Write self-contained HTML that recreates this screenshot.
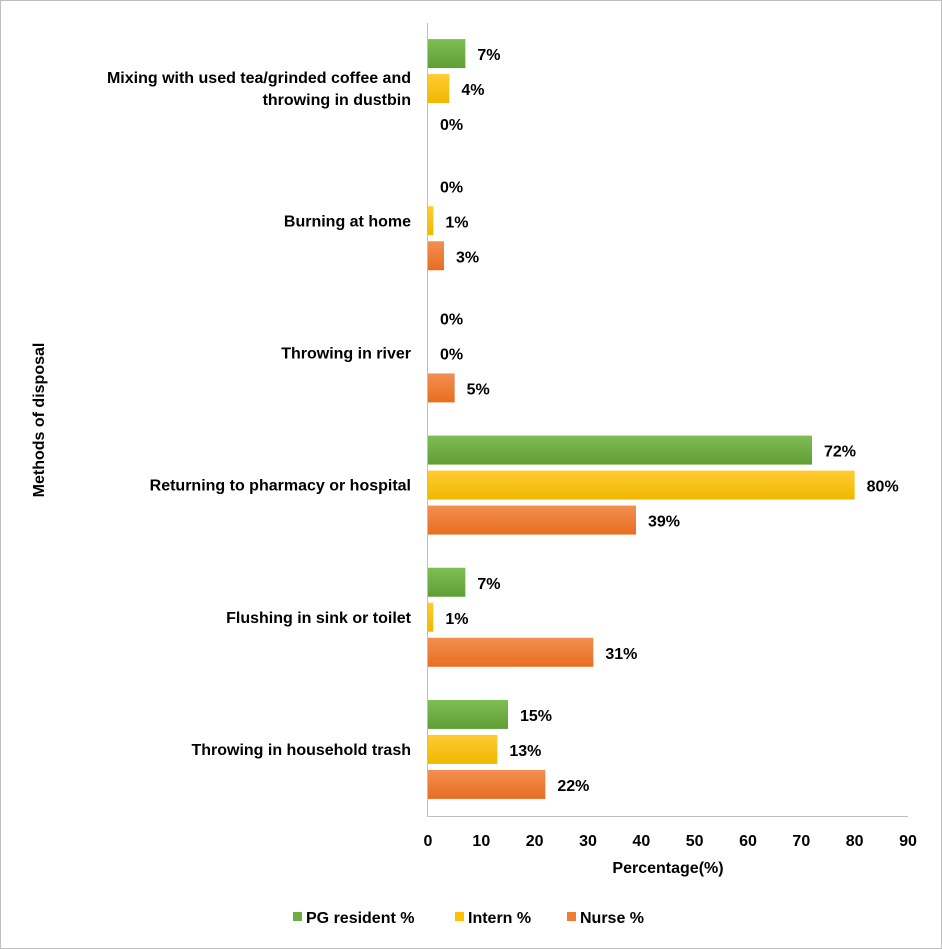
<!DOCTYPE html>
<html><head><meta charset="utf-8"><style>
body{margin:0;background:#fff}
svg{display:block;font-family:"Liberation Sans",Arial,sans-serif;font-weight:bold}
</style></head><body>
<svg id="c" width="942" height="949">
<defs>
<linearGradient id="gG" x1="0" y1="0" x2="0" y2="1"><stop offset="0" stop-color="#80bd55"/><stop offset="1" stop-color="#5f9e35"/></linearGradient>
<linearGradient id="gY" x1="0" y1="0" x2="0" y2="1"><stop offset="0" stop-color="#ffcc33"/><stop offset="1" stop-color="#efb800"/></linearGradient>
<linearGradient id="gO" x1="0" y1="0" x2="0" y2="1"><stop offset="0" stop-color="#f28f52"/><stop offset="1" stop-color="#e86e20"/></linearGradient>
</defs>
<rect x="0.5" y="0.5" width="941" height="948" fill="#fff" stroke="#bfbfbf"/>
<g id="plot"></g>
</svg>
<script>
const categories=["Mixing with used tea/grinded coffee and|throwing in dustbin","Burning at home","Throwing in river","Returning to pharmacy or hospital","Flushing in sink or toilet","Throwing in household trash"];
const pgResident=[7,0,0,72,7,15];
const intern=[4,1,0,80,1,13];
const nurse=[0,3,5,39,31,22];
const xTicks=[0,10,20,30,40,50,60,70,80,90];
const NS="http://www.w3.org/2000/svg";
const g=document.getElementById('plot');
const x0=428,x1=908,xMax=90,yTop=23,yBot=816;
const X=v=>x0+(x1-x0)*v/xMax;
const pitch=(yBot-yTop)/categories.length;
function mk(t,a,txt){const e=document.createElementNS(NS,t);for(const k in a)e.setAttribute(k,a[k]);if(txt!==undefined)e.textContent=txt;g.appendChild(e);return e;}
const series=[{v:pgResident,f:"url(#gG)",n:"pg"},{v:intern,f:"url(#gY)",n:"intern"},{v:nurse,f:"url(#gO)",n:"nurse"}];
categories.forEach((c,i)=>{
  const gc=yTop+pitch*i+pitch/2;
  const lines=c.split('|');
  lines.forEach((l,j)=>{
    const t=mk('text',{x:411,y:gc+5+(j-(lines.length-1)/2)*22,'text-anchor':'end','font-size':16,fill:'#000'},l);
    
    
  });
  series.forEach((s,k)=>{
    const by=gc-15+(k-1)*35;
    const v=s.v[i];
    const r=mk('rect',{x:x0,y:by,width:Math.max(X(v)-x0,0),height:29,fill:s.f});
    
    
    const t=mk('text',{x:X(v)+12,y:by+21,'font-size':16,fill:'#000'},v+'%');
    
    
  });
});
const ax=mk('line',{x1:427.5,y1:yTop,x2:427.5,y2:yBot,stroke:'#bfbfbf'});


const bx=mk('line',{x1:427,y1:yBot+0.5,x2:x1,y2:yBot+0.5,stroke:'#bfbfbf'});


xTicks.forEach(v=>{
  const t=mk('text',{x:X(v),y:846,'text-anchor':'middle','font-size':16,fill:'#000'},v);
  
  
});
const xt=mk('text',{x:668,y:873,'text-anchor':'middle','font-size':16,fill:'#000'},'Percentage(%)');


const yt=mk('text',{x:0,y:0,'text-anchor':'middle','font-size':16,fill:'#000',transform:'translate(44,420) rotate(-90)'},'Methods of disposal');


const leg=[["PG resident %","#70ad47",293],["Intern %","#ffc000",455],["Nurse %","#ed7d31",567]];
leg.forEach(l=>{
  const r=mk('rect',{x:l[2],y:912,width:9,height:9,fill:l[1]});
  
  
  const t=mk('text',{x:l[2]+13,y:923,'font-size':16,fill:'#000'},l[0]);
  
  
});
</script>
</body></html>
